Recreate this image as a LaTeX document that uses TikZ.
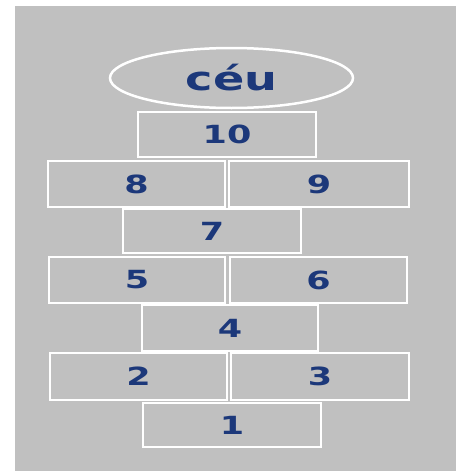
\documentclass[tikz,border=0pt]{standalone}
\usepackage{fontspec}
\setmainfont{DejaVu Sans}
\usetikzlibrary{shapes.geometric}
\definecolor{court}{RGB}{192,192,192}
\definecolor{ink}{RGB}{28,56,122}
\newcommand{\hand}[1]{\scalebox{1.4}[1]{\bfseries #1}}
\tikzset{
  square/.style={draw=white, line width=2.5pt, minimum height=45pt, inner sep=0pt,
    text=ink, font=\fontsize{25}{25}\selectfont},
  sky/.style={ellipse, draw=white, line width=2.5pt, minimum width=243pt,
    minimum height=60pt, inner sep=0pt, text=ink, font=\fontsize{33}{33}\selectfont}
}
\begin{document}
\begin{tikzpicture}[x=1pt,y=-1pt]
  % Fond
  \useasboundingbox (0,0) rectangle (462,471);
  \fill[white] (0,0) rectangle (462,471);
  \fill[court] (15,6) rectangle (456,471);
  % Ciel
  \node[sky] (ceu) at (231.5,78) {\hand{céu}};
  % Cases
  \node[square, minimum width=178pt] (n10) at (227,134.5) {\hand{10}};
  \node[square, minimum width=177pt, minimum height=46pt] (n8) at (136.5,184) {\hand{8}};
  \node[square, minimum width=180pt, minimum height=46pt] (n9) at (319,184) {\hand{9}};
  \node[square, minimum width=178pt, minimum height=44pt] (n7) at (212,231) {\hand{7}};
  \node[square, minimum width=176pt, minimum height=46pt] (n5) at (137,280) {\hand{5}};
  \node[square, minimum width=177pt, minimum height=46pt] (n6) at (318.5,280) {\hand{6}};
  \node[square, minimum width=176pt, minimum height=46pt] (n4) at (230,328) {\hand{4}};
  \node[square, minimum width=177pt, minimum height=47pt] (n2) at (138.5,376.5) {\hand{2}};
  \node[square, minimum width=178pt, minimum height=47pt] (n3) at (320,376.5) {\hand{3}};
  \node[square, minimum width=178pt, minimum height=44pt] (n1) at (232,425) {\hand{1}};
\end{tikzpicture}
\end{document}
